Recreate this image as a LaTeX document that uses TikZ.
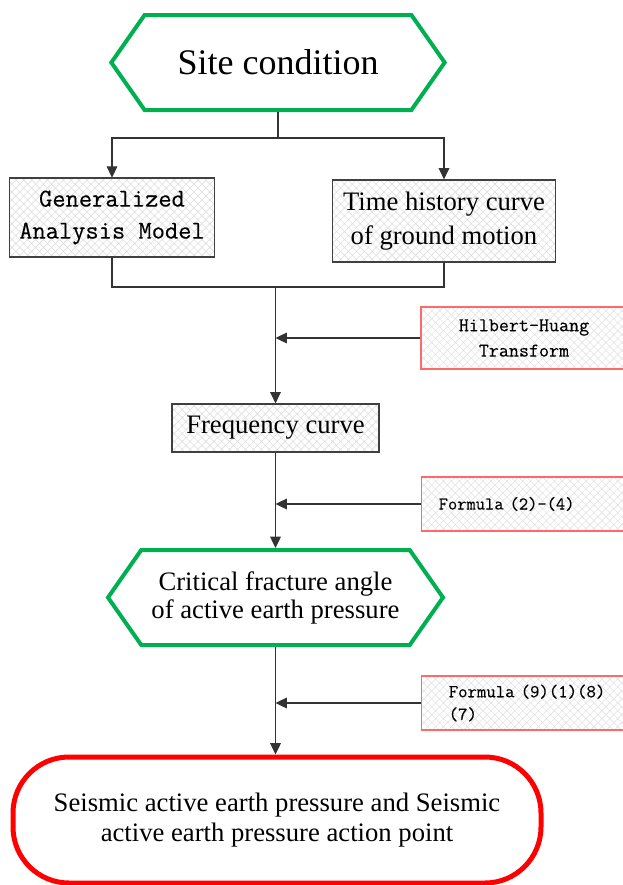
\documentclass[tikz,border=0pt]{standalone}
\usepackage{fontspec}
\setmainfont{Liberation Serif}
\setmonofont[FakeBold=0.3]{Latin Modern Mono}
\usetikzlibrary{shapes.symbols,patterns.meta,arrows.meta}
\definecolor{hexgreen}{RGB}{0,176,80}
\definecolor{endred}{RGB}{255,0,0}
\definecolor{notered}{RGB}{255,105,105}
\tikzset{
  hexbox/.style={shape=signal, signal to=west and east, signal pointer angle=110,
    draw=hexgreen, line width=3pt, fill=white, minimum width=250pt, minimum height=71.25pt,
    inner sep=0pt, align=center, font=\fontsize{20}{21}\selectfont},
  gridbox/.style={draw=black!75, line width=0.9pt, pattern={Hatch[angle=45,distance=4.2pt,line width=0.45pt]},
    pattern color=black!13, inner sep=0pt, align=center},
  notebox/.style={draw=notered, line width=1.1pt, pattern={Hatch[angle=45,distance=4.2pt,line width=0.45pt]},
    pattern color=black!11, inner sep=0pt, anchor=west},
  flow/.style={line width=0.9pt, draw=black!80},
  arr/.style={flow, -{Triangle[length=8.5pt,width=8pt]}},
}
\begin{document}
\begin{tikzpicture}[x=0.75pt,y=0.75pt,yscale=-1,xscale=1]
\path[use as bounding box] (0,0) rectangle (623,885);

%Shape: Hexagon
\node[hexbox, font=\fontsize{27}{32}\selectfont] (site) at (278,62.5) {Site condition};
%Shape: Rectangle
\node[gridbox, minimum width=153.75pt, minimum height=59.25pt, font=\ttfamily\fontsize{19.3}{24}\selectfont] (model) at (112,217.5) {Generalized\\Analysis Model};
%Shape: Rectangle
\node[gridbox, minimum width=167.25pt, minimum height=61.5pt, font=\fontsize{20}{25}\selectfont] (motion) at (444,221) {Time history curve\\of ground motion};
%Shape: Rectangle
\node[notebox, anchor=center, align=center, minimum width=154.5pt, minimum height=46.5pt, font=\ttfamily\fontsize{14.6}{19}\selectfont] (hht) at (524,338) {Hilbert-Huang\\Transform};
%Shape: Rectangle
\node[gridbox, minimum width=155.25pt, minimum height=36pt, font=\fontsize{20}{24}\selectfont] (freq) at (275.5,428) {Frequency curve};
%Shape: Rectangle
\node[notebox, minimum height=40.5pt, inner xsep=12.75pt, text width=139.5pt, align=left, font=\ttfamily\fontsize{13.5}{17}\selectfont] (form24) at (421,504) {Formula (2)-(4)};
%Shape: Hexagon
\node[hexbox, minimum width=251.25pt] (crit) at (275.5,597.5) {Critical fracture angle\\of active earth pressure};
%Shape: Rectangle
\node[notebox, minimum height=40.5pt, inner xsep=20.25pt, text width=124.5pt, align=left, font=\ttfamily\fontsize{13.7}{17}\selectfont] (form9) at (421,703) {Formula (9)(1)(8)\\(7)};
%Shape: Rounded Rect
\node[draw=endred, line width=3.75pt, rounded corners=42pt, minimum width=396pt, minimum height=94.5pt, inner sep=0pt, align=center, font=\fontsize{20}{22}\selectfont] (earth) at (277,820) {Seismic active earth pressure and Seismic\\active earth pressure action point};

%Straight Lines
\coordinate (split) at (278,138);
\coordinate (merge) at (275.5,287);
\draw[flow] (site.south) -- (split);
\draw[arr] (split) -| (model.north);
\draw[arr] (split) -| (motion.north);
\draw[flow] (model.south) |- (merge);
\draw[flow] (motion.south) |- (merge);
\draw[arr] (merge) -- (freq.north);
\draw[arr] (hht.west) -- (hht.west -| freq.north);
\draw[arr] (freq.south) -- (crit.north);
\draw[arr] (form24.west) -- (form24.west -| freq.south);
\draw[arr] (crit.south) -- (earth.north -| crit.south);
\draw[arr] (form9.west) -- (form9.west -| crit.south);

\end{tikzpicture}
\end{document}
